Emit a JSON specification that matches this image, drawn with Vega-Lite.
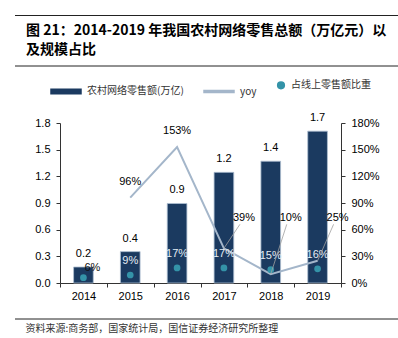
{
  "$schema": "https://vega.github.io/schema/vega-lite/v6.json",
  "width": 383,
  "height": 305,
  "autosize": {"type": "none"},
  "padding": {"left": 15, "top": 15, "right": 0, "bottom": 18},
  "background": "#ffffff",
  "title": {
    "text": ["图 21：2014-2019 年我国农村网络零售总额（万亿元）以", "及规模占比"],
    "anchor": "start",
    "frame": "group",
    "orient": "top",
    "offset": -42,
    "dx": 11,
    "font": "Noto Sans CJK SC",
    "fontSize": 14,
    "fontWeight": "bold",
    "color": "#000000",
    "lineHeight": 19
  },
  "config": {
    "view": {"stroke": null},
    "axis": {
      "grid": false,
      "labelFont": "Liberation Sans",
      "labelFontSize": 11,
      "labelColor": "#000000",
      "domainColor": "#333333",
      "tickColor": "#333333",
      "tickSize": 4
    },
    "text": {"font": "Liberation Sans", "fontSize": 11}
  },
  "data": {
    "values": [
      {"year": "2014", "sales": 0.18, "yoy": null, "share": 0.06},
      {"year": "2015", "sales": 0.353, "yoy": 0.96, "share": 0.09},
      {"year": "2016", "sales": 0.8945, "yoy": 1.53, "share": 0.17},
      {"year": "2017", "sales": 1.2448, "yoy": 0.39, "share": 0.17},
      {"year": "2018", "sales": 1.37, "yoy": 0.10, "share": 0.15},
      {"year": "2019", "sales": 1.7083, "yoy": 0.25, "share": 0.16}
    ]
  },
  "layer": [
    {
      "layer": [
        {
          "mark": {"type": "bar", "width": {"band": 0.42}, "stroke": "#aebfd2", "strokeWidth": 0.8},
          "encoding": {
            "x": {
              "field": "year",
              "type": "ordinal",
              "scale": {"range": [45, 326], "paddingInner": 0, "paddingOuter": 0},
              "axis": {
                "orient": "bottom",
                "offset": -37,
                "tickBand": "extent",
                "labelAngle": 0,
                "labelPadding": 3,
                "title": "资料来源:商务部，国家统计局，国信证券经济研究所整理",
                "titleX": 10,
                "titleY": 45,
                "titleAlign": "left",
                "titleAnchor": "start",
                "titleBaseline": "middle",
                "titleFont": "Noto Sans CJK SC",
                "titleFontSize": 10,
                "titleFontWeight": "normal",
                "titleColor": "#333333"
              }
            },
            "y": {
              "field": "sales",
              "type": "quantitative",
              "scale": {"domain": [0, 1.8], "range": [268, 108], "nice": false, "zero": true},
              "axis": {
                "orient": "left",
                "offset": -45,
                "values": [0, 0.3, 0.6, 0.9, 1.2, 1.5, 1.8],
                "format": ".1f",
                "labelPadding": 6,
                "title": null
              }
            },
            "color": {
              "datum": "农村网络零售额(万亿)",
              "scale": {
                "domain": ["农村网络零售额(万亿)", "yoy", "占线上零售额比重"],
                "range": ["#1b3a60", "#a4b6ca", "#3493a8"]
              },
              "legend": {
                "orient": "none",
                "legendX": 35,
                "legendY": 60,
                "direction": "horizontal",
                "title": null,
                "labelFont": "Noto Sans CJK SC",
                "labelFontSize": 10,
                "labelColor": "#333333",
                "labelOffset": 5,
                "columnPadding": 17
              }
            }
          }
        },
        {
          "mark": {"type": "text", "baseline": "middle", "dy": -13, "color": "#000000"},
          "encoding": {
            "x": {"field": "year", "type": "ordinal"},
            "y": {"field": "sales", "type": "quantitative"},
            "text": {"field": "sales", "type": "quantitative", "format": ".1f"}
          }
        },
        {
          "data": {"values": [{}]},
          "mark": {"type": "rule", "color": "#222222", "strokeWidth": 1, "yOffset": -107.5},
          "encoding": {"y": {"datum": 1.8, "type": "quantitative"}}
        },
        {
          "data": {"values": [{}]},
          "mark": {"type": "rule", "color": "#222222", "strokeWidth": 1, "yOffset": -57},
          "encoding": {"y": {"datum": 1.8, "type": "quantitative"}}
        },
        {
          "data": {"values": [{}]},
          "mark": {"type": "rule", "color": "#222222", "strokeWidth": 1, "yOffset": 36},
          "encoding": {"y": {"datum": 0, "type": "quantitative"}}
        }
      ]
    },
    {
      "layer": [
        {
          "transform": [{"filter": "datum.yoy != null"}],
          "mark": {"type": "line", "strokeWidth": 2},
          "encoding": {
            "x": {"field": "year", "type": "ordinal"},
            "y": {
              "field": "yoy",
              "type": "quantitative",
              "scale": {"domain": [0, 1.8], "range": [268, 108], "nice": false},
              "axis": {
                "orient": "right",
                "offset": -57,
                "values": [0, 0.3, 0.6, 0.9, 1.2, 1.5, 1.8],
                "format": ".0%",
                "labelPadding": 6,
                "title": null
              }
            },
            "color": {"datum": "yoy"}
          }
        },
        {
          "mark": {"type": "point", "filled": true, "opacity": 1},
          "encoding": {
            "x": {"field": "year", "type": "ordinal"},
            "y": {"field": "share", "type": "quantitative"},
            "color": {"datum": "占线上零售额比重"},
            "shape": {
              "datum": "占线上零售额比重",
              "scale": {
                "domain": ["农村网络零售额(万亿)", "yoy", "占线上零售额比重"],
                "range": ["M-1,-0.15H1V0.15H-1Z", "M-1,-0.06H1V0.06H-1Z", "circle"]
              }
            },
            "size": {
              "datum": "占线上零售额比重",
              "type": "ordinal",
              "scale": {
                "type": "ordinal",
                "domain": ["农村网络零售额(万亿)", "yoy", "占线上零售额比重"],
                "range": [900, 900, 45]
              }
            }
          }
        },
        {
          "transform": [{"filter": "datum.year !== '2014'"}],
          "mark": {"type": "text", "baseline": "middle", "dy": -14, "color": "#e4edf5"},
          "encoding": {
            "x": {"field": "year", "type": "ordinal"},
            "y": {"field": "share", "type": "quantitative"},
            "text": {"field": "share", "type": "quantitative", "format": ".0%"}
          }
        },
        {
          "transform": [{"filter": "datum.year === '2014'"}],
          "mark": {"type": "text", "baseline": "middle", "dy": -10, "dx": 9, "color": "#111111"},
          "encoding": {
            "x": {"field": "year", "type": "ordinal"},
            "y": {"field": "share", "type": "quantitative"},
            "text": {"field": "share", "type": "quantitative", "format": ".0%"}
          }
        },
        {
          "transform": [{"filter": "datum.year === '2015' || datum.year === '2016'"}],
          "mark": {"type": "text", "baseline": "middle", "dy": -16, "color": "#000000"},
          "encoding": {
            "x": {"field": "year", "type": "ordinal"},
            "y": {"field": "yoy", "type": "quantitative"},
            "text": {"field": "yoy", "type": "quantitative", "format": ".0%"}
          }
        },
        {
          "transform": [{"filter": "datum.year >= '2017'"}],
          "mark": {"type": "rule", "color": "#a0a0a0", "strokeWidth": 0.8, "x2Offset": 16},
          "encoding": {
            "x": {"field": "year", "type": "ordinal"},
            "x2": {"field": "year"},
            "y": {"field": "yoy", "type": "quantitative"},
            "y2": {"datum": 0.66}
          }
        },
        {
          "transform": [{"filter": "datum.year >= '2017'"}],
          "mark": {"type": "text", "baseline": "middle", "dx": 20, "color": "#000000"},
          "encoding": {
            "x": {"field": "year", "type": "ordinal"},
            "y": {"datum": 0.73, "type": "quantitative"},
            "text": {"field": "yoy", "type": "quantitative", "format": ".0%"}
          }
        }
      ]
    }
  ],
  "resolve": {"scale": {"y": "independent"}}
}
